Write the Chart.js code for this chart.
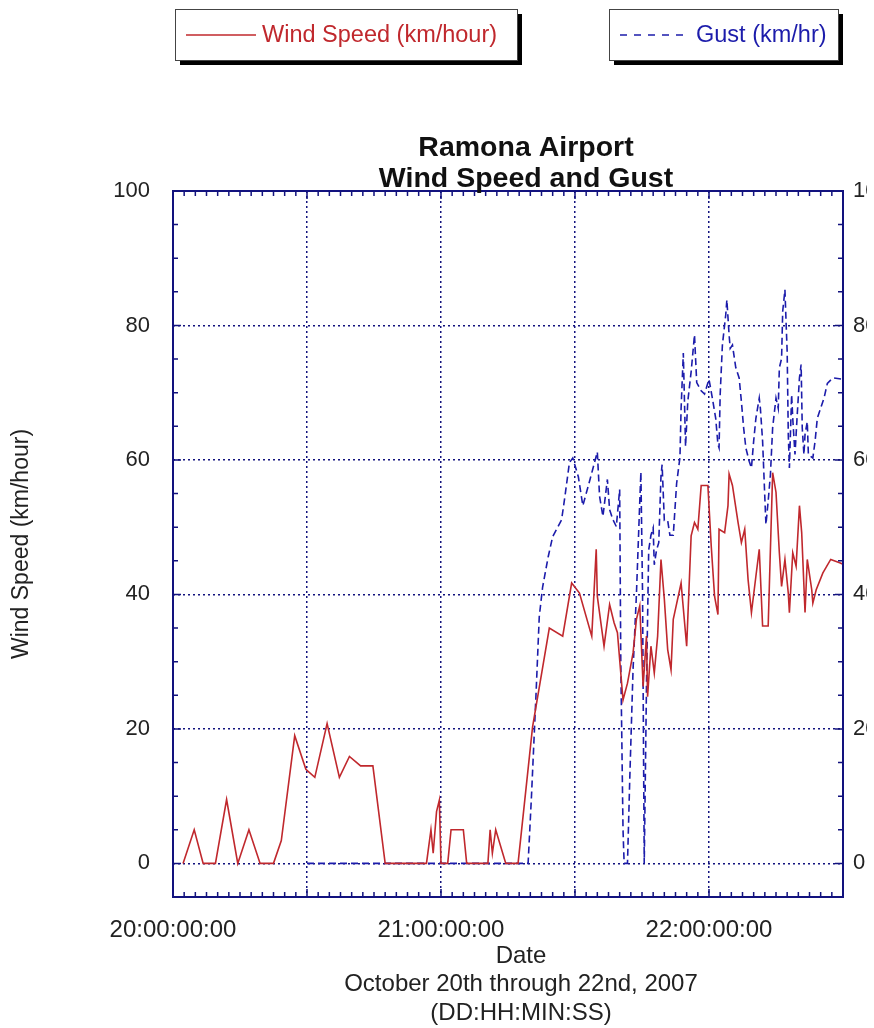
<!DOCTYPE html>
<html>
<head>
<meta charset="utf-8">
<script src="https://cdn.jsdelivr.net/npm/chart.js@4.4.1/dist/chart.umd.min.js"></script>
<style>
  html, body { margin: 0; padding: 0; background: #fff; overflow: hidden; }
  #wrap { width: 867px; height: 1028px; }
</style>
</head>
<body>
<div id="wrap"><canvas id="windChart" width="867" height="1028"></canvas></div>
<script>
// x values are hours since 20 Oct 2007 00:00
const xTickLabels = ['20:00:00:00', '21:00:00:00', '22:00:00:00'];
const yTickValues = [0, 20, 40, 60, 80, 100];
const xTitleLines = ['Date', 'October 20th through 22nd, 2007', '(DD:HH:MIN:SS)'];

const speedHours = [0.9, 1.9, 2.7, 3.8, 4.8, 5.8, 6.8, 7.8, 9.0, 9.7, 10.9, 11.9, 12.7, 13.8, 14.9, 15.8, 16.8, 17.9, 19.0,
  22.7, 23.1, 23.3, 23.6, 23.85, 24.0, 24.6, 24.9, 26.0, 26.3, 28.2, 28.4, 28.6, 28.9, 29.8, 30.9,
  32.2, 33.7, 34.9, 35.7, 36.4, 37.5, 37.9, 38.0, 38.6, 39.1, 39.5, 39.8, 40.3, 40.7, 41.2, 41.5, 41.8,
  42.1, 42.4, 42.5, 42.8, 43.1, 43.4, 43.7, 44.0, 44.3, 44.6, 44.8, 45.5, 46.0, 46.4, 46.7, 47.0, 47.3,
  47.9, 48.2, 48.5, 48.8, 48.9, 49.4, 49.7, 49.8, 50.1, 50.6, 50.9, 51.2, 51.5, 51.8, 52.2, 52.5, 52.8,
  53.3, 53.7, 54.0, 54.3, 54.5, 54.8, 55.1, 55.2, 55.5, 55.8, 56.1, 56.3, 56.6, 56.8, 57.2, 57.3, 57.6,
  58.2, 58.9, 59.7, 60.0];
const speedValues = [0, 5, 0, 0, 9.5, 0, 5, 0, 0, 3.4, 19, 14, 12.8, 20.8, 12.8, 15.9, 14.5, 14.5, 0,
  0, 5, 1.5, 7.7, 9.4, 0, 0, 5, 5, 0, 0, 5, 1.5, 5, 0, 0,
  20.3, 35, 33.8, 41.7, 40.2, 33.8, 46.7, 39.7, 32.3, 38.5, 35.8, 34.3, 24.3, 26.8, 31.3, 36.3, 38.3,
  26.3, 33.8, 24.8, 32.3, 28.3, 33.8, 45.2, 39.3, 31.8, 28.8, 36.3, 41.7, 32.3, 48.7, 50.7, 49.7, 56.2,
  56.2, 47.2, 39.7, 37, 49.7, 49.2, 53.2, 57.9, 56.2, 50.7, 47.7, 49.7, 42.2, 37.3, 42.7, 46.7, 35.3,
  35.3, 58.1, 55.2, 46.2, 41.2, 45.2, 40.2, 37.3, 46.2, 44.2, 53.2, 49.2, 37.3, 45.2, 40.7, 38.7, 40.7,
  43.2, 45.2, 44.7, 44.5];

const gustHours = [12.0, 31.8, 32.1, 32.5, 32.8, 33.1, 33.6, 34.0, 34.8, 35.1, 35.5, 35.8, 36.3, 36.7, 37.2, 37.6,
  38.0, 38.2, 38.5, 38.9, 39.1, 39.4, 39.7, 40.0, 40.1, 40.3, 40.4, 40.7, 40.9, 41.2, 41.5, 41.8, 41.9,
  42.05, 42.2, 42.4, 42.6, 42.8, 43.0, 43.1, 43.3, 43.5, 43.7, 43.8, 44.0, 44.3, 44.5, 44.8, 45.1, 45.4,
  45.5, 45.7, 45.9, 46.1, 46.4, 46.7, 46.9, 47.3, 47.6, 48.0, 48.3, 48.6, 48.8, 48.9, 49.0, 49.2, 49.5,
  49.6, 49.8, 49.9, 50.1, 50.4, 50.7, 50.9, 51.1, 51.3, 51.6, 51.8, 52.0, 52.2, 52.5, 52.6, 52.8, 53.0,
  53.1, 53.3, 53.5, 53.7, 54.0, 54.2, 54.3, 54.5, 54.6, 54.8, 54.9, 55.0, 55.1, 55.2, 55.4, 55.5, 55.7,
  55.9, 56.1, 56.25, 56.35, 56.5, 56.6, 56.8, 56.9, 57.3, 57.5, 57.7, 58.0, 58.3, 58.6, 59.1, 60.0];
const gustValues = [0, 0, 9.9, 24.8, 36.7, 41.1, 45.6, 48.6, 51.1, 54.6, 59.6, 60.3, 57.5, 53.2, 56.2, 58.7,
  61.2, 54.6, 51.6, 57.1, 52.6, 51.1, 50.1, 55.6, 30, 5, 0, 0, 12.3, 28.9, 40, 53.8, 58.2,
  40, 0, 26.2, 46.6, 48.8, 49.9, 44.4, 46.6, 47.7, 57.6, 59.3, 51, 51, 48.8, 48.8, 56.5, 60.4,
  67.6, 75.9, 62, 68.7, 73.1, 78.6, 71.5, 70.3, 69.8, 72, 69.2, 66.2, 62.3, 61.8, 69.7, 77.1, 81.6,
  83.8, 78.6, 76.6, 77.1, 73.7, 72.2, 68.7, 64.8, 61.8, 59.8, 58.8, 62.8, 66.2, 69.2, 67.7, 62.8, 54.4,
  50.4, 53.9, 57.8, 64.8, 69.2, 67.7, 73.7, 75.1, 82.1, 85.3, 80.6, 76.1, 63.8, 58.8, 69.7, 66.2, 60.8,
  66.7, 72.2, 74.2, 64.8, 60.8, 63.8, 65.7, 60.8, 60.3, 62.8, 66.2, 67.7, 69.2, 71.4, 72.2, 72.0];

const FONT = '"Liberation Sans", Arial, sans-serif';
const NAVY = '#12127e';
const RED = '#c0282d';
const BLUE = '#1c1cab';

// frame plus inward tick marks, drawn from the scales
const framePlugin = {
  id: 'frame',
  afterDatasetsDraw(chart) {
    const ctx = chart.ctx;
    const a = chart.chartArea;
    const x = chart.scales.x, y = chart.scales.y;
    ctx.save();
    ctx.strokeStyle = NAVY;
    ctx.lineWidth = 1.5;
    ctx.beginPath();
    for (let h = 0; h <= 60; h++) {
      const px = x.getPixelForValue(h);
      const len = h % 12 === 0 ? 8 : 5;
      ctx.moveTo(px, a.bottom); ctx.lineTo(px, a.bottom - len);
      ctx.moveTo(px, a.top); ctx.lineTo(px, a.top + len);
    }
    for (let v = -5; v <= 100; v += 5) {
      const py = y.getPixelForValue(v);
      const len = v % 20 === 0 ? 8 : 5;
      ctx.moveTo(a.left, py); ctx.lineTo(a.left + len, py);
      ctx.moveTo(a.right, py); ctx.lineTo(a.right - len, py);
    }
    ctx.stroke();
    ctx.lineWidth = 2;
    ctx.strokeRect(a.left, a.top, a.right - a.left, a.bottom - a.top);
    ctx.restore();
  }
};

// title, x axis caption and the two boxed legend entries
const headerPlugin = {
  id: 'header',
  afterDraw(chart) {
    const ctx = chart.ctx;
    ctx.save();
    ctx.fillStyle = '#111';
    ctx.font = 'bold 28.5px ' + FONT;
    ctx.textAlign = 'center';
    ctx.textBaseline = 'middle';
    ctx.fillText('Ramona Airport', 526, 148);
    ctx.fillText('Wind Speed and Gust', 526, 179);

    ctx.fillStyle = '#222';
    ctx.font = '24px ' + FONT;
    xTitleLines.forEach((t, i) => ctx.fillText(t, 521, 956 + i * 28.5));

    const boxes = [
      { x: 175, w: 342, ds: chart.data.datasets[0] },
      { x: 609, w: 229, ds: chart.data.datasets[1] }
    ];
    boxes.forEach(b => {
      ctx.fillStyle = '#000';
      ctx.fillRect(b.x + 5, 14, b.w, 51);
      ctx.fillStyle = '#fff';
      ctx.fillRect(b.x, 9, b.w, 51);
      ctx.strokeStyle = '#444';
      ctx.lineWidth = 1;
      ctx.strokeRect(b.x + 0.5, 9.5, b.w, 51);
      ctx.strokeStyle = b.ds.borderColor;
      ctx.lineWidth = 1.5;
      ctx.setLineDash(b.ds.borderDash ? [7, 7] : []);
      ctx.beginPath();
      ctx.moveTo(b.x + 11, 35);
      ctx.lineTo(b.x + 81, 35);
      ctx.stroke();
      ctx.setLineDash([]);
      ctx.fillStyle = b.ds.borderColor;
      ctx.font = '23.5px ' + FONT;
      ctx.textAlign = 'left';
      ctx.fillText(b.ds.label, b.x + 87, 36);
    });
    ctx.restore();
  }
};

const gridOpts = { color: NAVY, lineWidth: 1.5, drawTicks: false };
const borderOpts = { display: false, dash: [2, 3] };

new Chart(document.getElementById('windChart'), {
  type: 'line',
  data: {
    datasets: [
      {
        label: 'Wind Speed (km/hour)',
        data: speedHours.map((h, i) => ({ x: h, y: speedValues[i] })),
        borderColor: RED,
        borderWidth: 1.6,
        pointRadius: 0,
        tension: 0,
        yAxisID: 'y'
      },
      {
        label: 'Gust (km/hr)',
        data: gustHours.map((h, i) => ({ x: h, y: gustValues[i] })),
        borderColor: BLUE,
        borderWidth: 1.6,
        borderDash: [7, 4],
        pointRadius: 0,
        tension: 0,
        yAxisID: 'y'
      }
    ]
  },
  options: {
    responsive: false,
    animation: false,
    devicePixelRatio: 1,
    layout: { padding: { top: 191, left: 0, right: 0, bottom: 0 } },
    plugins: {
      legend: { display: false },
      title: { display: false },
      tooltip: { enabled: false }
    },
    scales: {
      x: {
        type: 'linear',
        position: 'bottom',
        min: 0,
        max: 60,
        afterFit(s) { s.height = 131; },
        grid: gridOpts,
        border: borderOpts,
        ticks: {
          stepSize: 12,
          autoSkip: false,
          maxRotation: 0,
          padding: 19,
          color: '#222',
          font: { family: FONT, size: 24 },
          callback: v => (v % 24 === 0 ? xTickLabels[v / 24] : '')
        }
      },
      y: {
        position: 'left',
        min: -5,
        max: 100,
        afterFit(s) { s.width = 173; },
        grid: gridOpts,
        border: borderOpts,
        ticks: {
          stepSize: 20,
          includeBounds: false,
          padding: 23,
          color: '#222',
          font: { family: FONT, size: 22 },
          callback: v => (yTickValues.includes(v) ? v : '')
        },
        title: {
          display: true,
          text: 'Wind Speed (km/hour)',
          color: '#222',
          font: { family: FONT, size: 23, lineHeight: 1.2 },
          padding: { top: 8, bottom: 0 }
        }
      },
      y2: {
        position: 'right',
        min: -5,
        max: 100,
        afterFit(s) { s.width = 24; },
        grid: { display: false, drawTicks: false },
        border: { display: false },
        ticks: {
          stepSize: 20,
          includeBounds: false,
          padding: 10,
          color: '#222',
          font: { family: FONT, size: 22 },
          callback: v => (yTickValues.includes(v) ? v : '')
        }
      }
    }
  },
  plugins: [framePlugin, headerPlugin]
});
</script>
</body>
</html>
